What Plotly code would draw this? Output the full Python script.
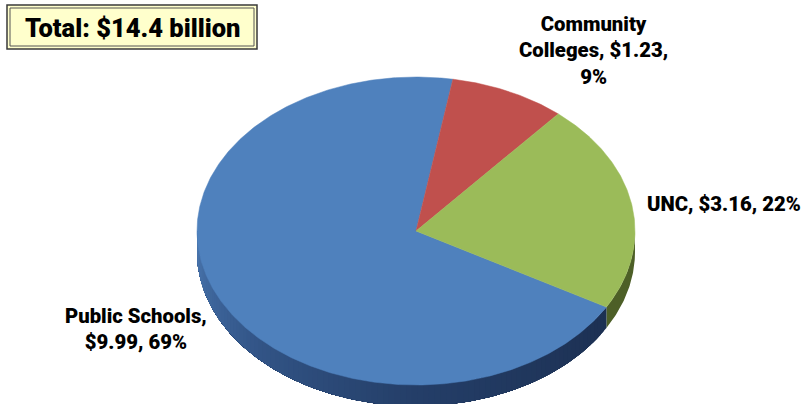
import numpy as np
import plotly.graph_objects as go

# Appropriations by sector, in billions of dollars
sectors = ["Public Schools", "Community Colleges", "UNC"]
amounts = [9.99, 1.23, 3.16]
total_label = "Total: $14.4 billion"

top_colors = ["#4F81BD", "#C0504D", "#9BBB59"]
label_font = "Roboto"
ink = "#000000"

# Tilted-disc geometry, in page units
CX, CY, RX, RY, DEPTH = 416, 231, 219, 154, 21
FIRST_ANGLE = 119.6  # clockwise from twelve o'clock


def ellipse(t_deg, dy=0.0):
    t = np.radians(t_deg)
    return CX + RX * np.sin(t), CY - RY * np.cos(t) + dy


def wall_color(t):
    # Side wall of the blue slice brightens toward the left edge
    stops_t = [119, 180, 225, 250, 270]
    r = np.interp(t, stops_t, [28, 36, 50, 62, 76])
    g = np.interp(t, stops_t, [48, 62, 84, 102, 120])
    b = np.interp(t, stops_t, [82, 104, 134, 156, 176])
    return f"rgb({r:.0f},{g:.0f},{b:.0f})"


fig = go.Figure()

# Slice spans follow from the amounts
total = sum(amounts)
spans = [a / total * 360 for a in amounts]
starts = [FIRST_ANGLE + sum(spans[:i]) for i in range(len(spans))]
blue_start = starts[0]


def add_wall(t0, t1, color):
    ts = np.linspace(t0, t1, max(int((t1 - t0) * 2), 2))
    xa, ya = ellipse(ts)
    xb, yb = ellipse(ts[::-1], DEPTH)
    fig.add_trace(go.Scatter(
        x=np.r_[xa, xb], y=np.r_[ya, yb], mode="lines", fill="toself",
        fillcolor=color, line=dict(width=0), hoverinfo="skip",
    ))


# Side wall: each shade paints from its own angle through to the far end,
# so neighbouring bands overlap and leave no seam
add_wall(90, blue_start, "#4D5F27")
for a in np.arange(blue_start, 270, 1.5):
    add_wall(a, 270, wall_color(a + 0.75))

# Top face
for name, start, span, color, amount in zip(sectors, starts, spans, top_colors, amounts):
    ts = np.linspace(start, start + span, max(int(span * 2), 2))
    xs, ys = ellipse(ts)
    fig.add_trace(go.Scatter(
        x=np.r_[CX, xs, CX], y=np.r_[CY, ys, CY], mode="lines", fill="toself",
        fillcolor=color, line=dict(color=color, width=0.5), name=name,
        hovertemplate=f"{name}: ${amount}B<extra></extra>",
    ))


def pct(a):
    return round(a / total * 100)


labels = [
    (136, 329, f"{sectors[0]},<br>${amounts[0]:.2f}, {pct(amounts[0])}%"),
    (593, 50, f"Community<br>Colleges, ${amounts[1]:.2f},<br>{pct(amounts[1])}%"),
    (723.5, 204, f"{sectors[2]}, ${amounts[2]:.2f}, {pct(amounts[2])}%"),
]
annotations = [
    dict(x=x, y=y, xref="x", yref="y", text=t, showarrow=False,
         align="center", xanchor="center", yanchor="middle",
         font=dict(family=label_font, size=20.3, color=ink, weight=900))
    for x, y, t in labels
]
annotations.append(dict(
    x=132, y=27.5, xref="x", yref="y", text=total_label, showarrow=False,
    xanchor="center", yanchor="middle",
    font=dict(family=label_font, size=25.5, color=ink, weight=900),
))

# Framed call-out holding the total
shapes = [
    dict(type="rect", x0=7, y0=5, x1=257, y1=49, xref="x", yref="y",
         fillcolor="#FFFFCC", line=dict(color="#3A3A3A", width=1.5), layer="above"),
    dict(type="rect", x0=10, y0=8, x1=254, y1=46, xref="x", yref="y",
         fillcolor="rgba(0,0,0,0)", line=dict(color="#555555", width=1), layer="above"),
]

fig.update_layout(
    width=804, height=404, margin=dict(l=0, r=0, t=0, b=0),
    paper_bgcolor="white", plot_bgcolor="white", showlegend=False,
    xaxis=dict(range=[0, 804], visible=False, fixedrange=True),
    yaxis=dict(range=[404, 0], visible=False, fixedrange=True),
    shapes=shapes, annotations=annotations,
)
fig.write_html("out.html", config=dict(displayModeBar=False))
